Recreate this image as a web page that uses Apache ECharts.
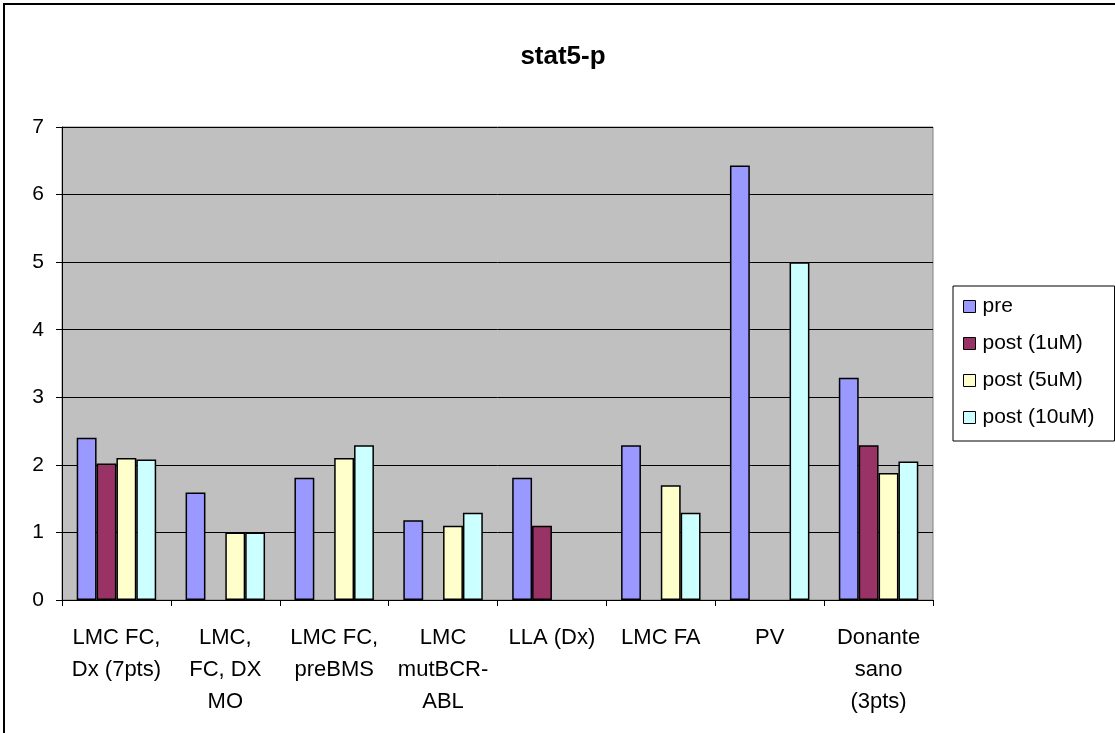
<!DOCTYPE html>
<html>
<head>
<meta charset="utf-8">
<script src="https://cdn.jsdelivr.net/npm/echarts@6/dist/echarts.min.js"></script>
<style>
  html, body { margin: 0; padding: 0; background: #fff; }
  #frame { position: absolute; left: 3px; top: 3px; width: 1130px; height: 750px; border: 2px solid #000; box-sizing: border-box; }
  #chart { position: absolute; left: 0; top: 0; width: 1115px; height: 733px; }
</style>
</head>
<body>
<div id="frame"></div>
<div id="chart"></div>
<script>
// Categories and measured stat5-p levels per condition
const categories = ['LMC FC,\nDx (7pts)', 'LMC,\nFC, DX\nMO', 'LMC FC,\npreBMS', 'LMC\nmutBCR-\nABL', 'LLA (Dx)', 'LMC FA', 'PV', 'Donante\nsano\n(3pts)'];
const seriesNames = ['pre', 'post (1uM)', 'post (5uM)', 'post (10uM)'];
const pre    = [2.40, 1.59, 1.81, 1.18, 1.81, 2.29, 6.43, 3.29];
const post1  = [2.02, null, null, null, 1.10, null, null, 2.29];
const post5  = [2.10, 1.00, 2.10, 1.10, null, 1.70, null, 1.88];
const post10 = [2.08, 1.00, 2.29, 1.29, null, 1.29, 5.00, 2.05];
const yTicks = [0, 1, 2, 3, 4, 5, 6, 7];

const colors = ['#9999FF', '#993366', '#FFFFCC', '#CCFFFF'];
const values = [pre, post1, post5, post10];
const font = 'Arial, "Liberation Sans", sans-serif';

const chart = echarts.init(document.getElementById('chart'), null, { renderer: 'canvas' });
chart.setOption({
  animation: false,
  title: {
    text: 'stat5-p', left: 563, top: 44, textAlign: 'center', padding: 0,
    textStyle: { fontFamily: font, fontSize: 26, fontWeight: 'bold', color: '#000' }
  },
  legend: {
    orient: 'vertical', left: 953, top: 286,
    padding: [10, 20, 13, 10],
    borderColor: '#000', borderWidth: 1, backgroundColor: '#fff',
    itemWidth: 12, itemHeight: 12, itemGap: 16, icon: 'rect',
    itemStyle: { borderColor: '#000', borderWidth: 1 },
    textStyle: { fontFamily: font, fontSize: 21, lineHeight: 21, color: '#000', padding: [0, 0, 0, 2] },
    data: seriesNames
  },
  grid: { left: 62, right: 182, top: 127, bottom: 133, show: true, backgroundColor: '#C0C0C0', borderColor: '#808080', borderWidth: 1 },
  xAxis: {
    type: 'category', data: categories,
    axisLine: { lineStyle: { color: '#000', width: 1 } },
    axisTick: { show: true, length: 6, lineStyle: { color: '#000' } },
    axisLabel: { fontFamily: font, fontSize: 22, color: '#000', lineHeight: 32, margin: 22, interval: 0 }
  },
  yAxis: {
    type: 'value', min: yTicks[0], max: yTicks[yTicks.length - 1], interval: 1,
    axisLine: { show: true, lineStyle: { color: '#000', width: 1 } },
    axisTick: { show: true, length: 6, lineStyle: { color: '#000' } },
    axisLabel: { fontFamily: font, fontSize: 21, color: '#000', margin: 18 },
    splitLine: { lineStyle: { color: '#000', width: 1 } }
  },
  series: seriesNames.map((name, i) => ({
    name, type: 'bar', data: values[i],
    barGap: '0%', barCategoryGap: '27%',
    itemStyle: { color: colors[i], borderColor: '#000', borderWidth: 1.5 }
  }))
});
</script>
</body>
</html>
